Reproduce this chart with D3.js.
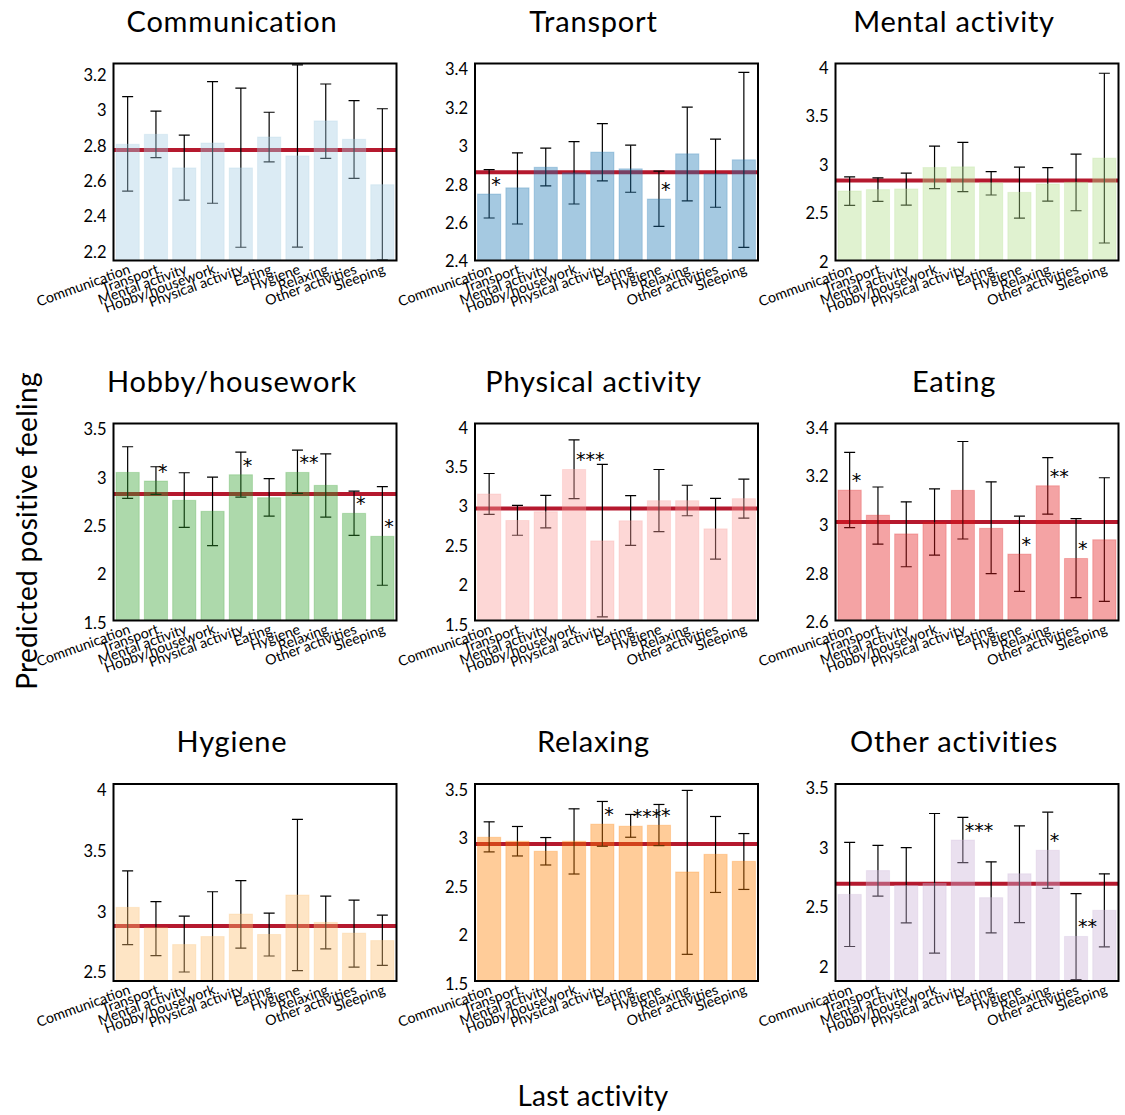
<!DOCTYPE html>
<html>
<head>
<meta charset="utf-8">
<script src="https://cdn.jsdelivr.net/npm/d3@7"></script>
<style>
  html, body { margin: 0; padding: 0; background: #fff; }
  svg { display: block; }
  text { font-family: Lato, "Open Sans", sans-serif; fill: #000; }
</style>
</head>
<body>
<svg id="chart" width="1125" height="1115"></svg>
<script>
// ---------- DATA ----------
const categories = ["Communication", "Transport", "Mental activity", "Hobby/housework",
  "Physical activity", "Eating", "Hygiene", "Relaxing", "Other activities", "Sleeping"];

const panelTitles = ["Communication", "Transport", "Mental activity", "Hobby/housework",
  "Physical activity", "Eating", "Hygiene", "Relaxing", "Other activities"];

const barColors = ["#a6cee3", "#1f78b4", "#b2df8a", "#33a02c", "#fb9a99",
  "#e31a1c", "#fdbf6f", "#ff7f00", "#cab2d6"];

const meanValues = [
  [2.808, 2.864, 2.674, 2.815, 2.674, 2.849, 2.742, 2.940, 2.836, 2.579],
  [2.751, 2.783, 2.890, 2.861, 2.969, 2.882, 2.725, 2.960, 2.856, 2.929],
  [2.731, 2.745, 2.752, 2.972, 2.979, 2.814, 2.717, 2.803, 2.821, 3.069],
  [3.055, 2.966, 2.766, 2.652, 3.031, 2.793, 3.055, 2.921, 2.631, 2.393],
  [3.157, 2.821, 2.932, 3.468, 2.562, 2.817, 3.072, 3.072, 2.715, 3.098],
  [3.143, 3.040, 2.963, 3.010, 3.142, 2.986, 2.880, 3.161, 2.862, 2.939],
  [3.036, 2.868, 2.730, 2.796, 2.981, 2.813, 3.138, 2.912, 2.824, 2.763],
  [3.010, 2.969, 2.866, 2.969, 3.145, 3.124, 3.134, 2.652, 2.834, 2.762],
  [2.608, 2.808, 2.683, 2.700, 3.064, 2.581, 2.781, 2.978, 2.256, 2.475]
];

const lowerValues = [
  [2.543, 2.732, 2.492, 2.474, 2.225, 2.708, 2.226, 2.728, 2.615, 2.153],
  [2.626, 2.595, 2.793, 2.699, 2.819, 2.760, 2.583, 2.715, 2.682, 2.473],
  [2.583, 2.624, 2.586, 2.755, 2.724, 2.690, 2.452, 2.628, 2.528, 2.197],
  [2.786, 2.828, 2.486, 2.297, 2.800, 2.603, 2.838, 2.593, 2.403, 1.886],
  [2.898, 2.634, 2.728, 3.098, 1.600, 2.506, 2.681, 2.881, 2.332, 2.851],
  [2.989, 2.921, 2.828, 2.876, 2.942, 2.800, 2.727, 3.044, 2.701, 2.686],
  [2.730, 2.639, 2.504, 2.430, 2.700, 2.636, 2.515, 2.694, 2.545, 2.559],
  [2.859, 2.817, 2.724, 2.631, 2.917, 3.010, 2.924, 1.803, 2.441, 2.472],
  [2.172, 2.594, 2.369, 2.117, 2.875, 2.286, 2.372, 2.658, 1.894, 2.169]
];

const upperValues = [
  [3.077, 2.996, 2.860, 3.162, 3.126, 2.989, 3.257, 3.149, 3.055, 3.009],
  [2.878, 2.965, 2.990, 3.023, 3.117, 3.005, 2.870, 3.203, 3.037, 3.384],
  [2.876, 2.866, 2.914, 3.193, 3.231, 2.931, 2.976, 2.972, 3.110, 3.941],
  [3.321, 3.114, 3.052, 3.007, 3.266, 2.990, 3.286, 3.248, 2.862, 2.907],
  [3.417, 3.013, 3.140, 3.843, 3.532, 3.136, 3.468, 3.268, 3.102, 3.345],
  [3.298, 3.156, 3.095, 3.148, 3.343, 3.177, 3.036, 3.277, 3.026, 3.194],
  [3.336, 3.083, 2.964, 3.165, 3.256, 2.989, 3.760, 3.129, 3.096, 2.972],
  [3.169, 3.121, 3.007, 3.303, 3.379, 3.245, 3.348, 3.493, 3.224, 3.048],
  [3.044, 3.019, 3.000, 3.286, 3.253, 2.881, 3.183, 3.297, 2.614, 2.781]
];

const referenceValues = [2.775, 2.864, 2.838, 2.831, 2.974, 3.012, 2.882, 2.941, 2.697];

const significance = [
  ["", "", "", "", "", "", "", "", "", ""],
  ["*", "", "", "", "", "", "*", "", "", ""],
  ["", "", "", "", "", "", "", "", "", ""],
  ["", "*", "", "", "*", "", "**", "", "*", "*"],
  ["", "", "", "***", "", "", "", "", "", ""],
  ["*", "", "", "", "", "", "*", "**", "*", ""],
  ["", "", "", "", "", "", "", "", "", ""],
  ["", "", "", "", "*", "***", "*", "", "", ""],
  ["", "", "", "", "***", "", "", "*", "**", ""]
];

const yLimits = [
  [2.150, 3.265], [2.405, 3.430], [2.017, 4.041],
  [1.521, 3.562], [1.553, 4.051], [2.607, 3.417],
  [2.430, 4.052], [1.528, 3.559], [1.883, 3.533]
];

const yTickValues = [
  [2.2, 2.4, 2.6, 2.8, 3, 3.2],
  [2.4, 2.6, 2.8, 3, 3.2, 3.4],
  [2, 2.5, 3, 3.5, 4],
  [1.5, 2, 2.5, 3, 3.5],
  [1.5, 2, 2.5, 3, 3.5, 4],
  [2.6, 2.8, 3, 3.2, 3.4],
  [2.5, 3, 3.5, 4],
  [1.5, 2, 2.5, 3, 3.5],
  [2, 2.5, 3, 3.5]
];

const yAxisTitle = "Predicted positive feeling";
const xAxisTitle = "Last activity";

// ---------- LAYOUT ----------
const colLeft = [113.5, 475, 835.5];
const rowTop = [63.5, 423.5, 784];
const pw = 283, ph = 197;

const svg = d3.select("#chart");
svg.append("rect").attr("width", 1125).attr("height", 1115).attr("fill", "#fff");

panelTitles.forEach((title, p) => {
  const left = colLeft[p % 3], top = rowTop[Math.floor(p / 3)];
  const g = svg.append("g").attr("transform", `translate(${left},${top})`);

  const x = d3.scaleBand().domain(categories).range([0, pw])
    .paddingInner(0.18).paddingOuter(0.09);
  const y = d3.scaleLinear().domain(yLimits[p]).range([ph, 0]);
  const cx = d => x(d) + x.bandwidth() / 2;

  const clip = "clip" + p;
  g.append("clipPath").attr("id", clip).append("rect")
    .attr("width", pw).attr("height", ph);
  const plot = g.append("g").attr("clip-path", `url(#${clip})`);

  // reference line
  plot.append("line")
    .attr("x1", 0).attr("x2", pw)
    .attr("y1", y(referenceValues[p])).attr("y2", y(referenceValues[p]))
    .attr("stroke", "#b5192e").attr("stroke-width", 4);

  // error bars
  const cap = 5.5;
  const eb = plot.selectAll("g.eb").data(categories).join("g").attr("class", "eb");
  eb.append("line")
    .attr("x1", cx).attr("x2", cx)
    .attr("y1", (d, i) => y(lowerValues[p][i])).attr("y2", (d, i) => y(upperValues[p][i]))
    .attr("stroke", "#000").attr("stroke-width", 1.2);
  eb.append("line")
    .attr("x1", d => cx(d) - cap).attr("x2", d => cx(d) + cap)
    .attr("y1", (d, i) => y(upperValues[p][i])).attr("y2", (d, i) => y(upperValues[p][i]))
    .attr("stroke", "#000").attr("stroke-width", 1.2);
  eb.append("line")
    .attr("x1", d => cx(d) - cap).attr("x2", d => cx(d) + cap)
    .attr("y1", (d, i) => y(lowerValues[p][i])).attr("y2", (d, i) => y(lowerValues[p][i]))
    .attr("stroke", "#000").attr("stroke-width", 1.2);

  // bars (semi-transparent, drawn on top)
  plot.selectAll("rect.bar").data(categories).join("rect").attr("class", "bar")
    .attr("x", d => x(d)).attr("width", x.bandwidth())
    .attr("y", (d, i) => y(meanValues[p][i]))
    .attr("height", (d, i) => ph + 5 - y(meanValues[p][i]))
    .attr("fill", barColors[p]).attr("fill-opacity", 0.4)
    .attr("stroke", barColors[p]).attr("stroke-opacity", 0.25).attr("stroke-width", 1);

  // significance stars
  g.selectAll("text.star").data(categories).join("text").attr("class", "star")
    .attr("x", d => cx(d) + 2)
    .attr("y", (d, i) => y(meanValues[p][i]) - 3)
    .style("font-family", "'DejaVu Sans', sans-serif")
    .attr("font-size", 19)
    .text((d, i) => significance[p][i]);

  // frame
  g.append("rect").attr("width", pw).attr("height", ph)
    .attr("fill", "none").attr("stroke", "#000").attr("stroke-width", 2);

  // y axis labels
  g.selectAll("text.ytick").data(yTickValues[p]).join("text").attr("class", "ytick")
    .attr("x", -7).attr("y", d => y(d))
    .attr("text-anchor", "end").attr("dominant-baseline", "central")
    .attr("font-size", 16.5)
    .text(d => d3.format("~g")(d));

  // x tick labels
  g.selectAll("text.xtick").data(categories).join("text").attr("class", "xtick")
    .attr("transform", d => `translate(${cx(d)},${ph + 3}) rotate(-20)`)
    .attr("text-anchor", "end").attr("dy", "0.72em")
    .attr("font-size", 14.2)
    .text(d => d);

  // title
  g.append("text").attr("x", pw / 2 - 23).attr("y", -32)
    .attr("text-anchor", "middle").attr("font-size", 29)
    .attr("letter-spacing", 0.8)
    .text(title);
});

svg.append("text")
  .attr("transform", "translate(37,531) rotate(-90)")
  .attr("text-anchor", "middle").attr("font-size", 28)
  .attr("letter-spacing", 0.3)
  .text(yAxisTitle);

svg.append("text")
  .attr("x", 593).attr("y", 1106)
  .attr("text-anchor", "middle").attr("font-size", 28)
  .attr("letter-spacing", 0.3)
  .text(xAxisTitle);
</script>
</body>
</html>
